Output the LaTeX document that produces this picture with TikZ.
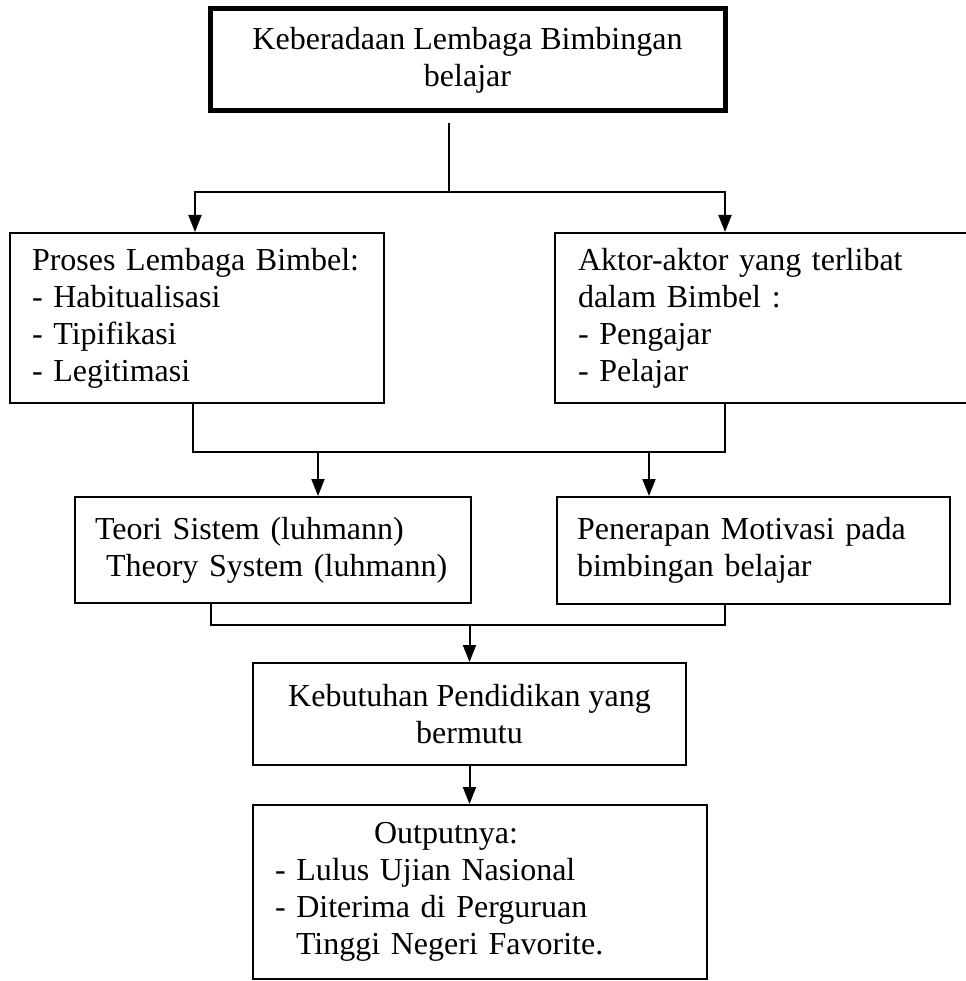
\documentclass[tikz,border=0pt]{standalone}
\usepackage{fontspec}
\setmainfont{Liberation Serif}
\usepackage{tikz}
\usetikzlibrary{arrows.meta}

\begin{document}
\begin{tikzpicture}[x=1pt, y=-1pt,
    box/.style={draw, line width=2pt, font=\fontsize{32}{37}\selectfont, inner ysep=0pt},
    leftbox/.style={box, align=left},
    midbox/.style={box, align=center},
    arr/.style={line width=2pt, -{Triangle[length=17pt, width=13pt]}},
    link/.style={line width=2pt}]
    \useasboundingbox (0,0) rectangle (965,981);
    % boxes
    \node[midbox, line width=5pt, minimum width=515pt, minimum height=102pt] (keberadaan) at (467.5,60)
        {Keberadaan Lembaga Bimbingan\\belajar};
    \node[leftbox, minimum width=374pt, minimum height=170pt, inner xsep=22pt, text width=330pt] (proses) at (197,318)
        {Proses Lembaga Bimbel:\\- Habitualisasi\\- Tipifikasi\\- Legitimasi};
    \node[leftbox, minimum width=413pt, minimum height=170pt, inner xsep=23pt, text width=367pt] (aktor) at (761.5,318)
        {Aktor-aktor yang terlibat\\dalam Bimbel :\\- Pengajar\\- Pelajar};
    \node[leftbox, minimum width=396pt, minimum height=106pt, inner xsep=20pt, text width=356pt] (teori) at (273,550)
        {Teori Sistem (luhmann)\\\hspace*{11pt}Theory System (luhmann)};
    \node[leftbox, minimum width=393pt, minimum height=107pt, inner xsep=20pt, text width=353pt] (penerapan) at (753.5,550.5)
        {Penerapan Motivasi pada\\bimbingan belajar};
    \node[midbox, minimum width=433pt, minimum height=102pt] (kebutuhan) at (469.5,714)
        {Kebutuhan Pendidikan yang\\bermutu};
    \node[leftbox, minimum width=454pt, minimum height=174pt, inner xsep=22pt, text width=410pt] (output) at (480,892)
        {\hspace*{99pt}Outputnya:\\- Lulus Ujian Nasional\\- Diterima di Perguruan\\\hspace*{21pt}Tinggi Negeri Favorite.};
    % junction points
    \coordinate (fork1) at (449,192);
    \coordinate (j2l) at (193,452);
    \coordinate (j2r) at (725,452);
    \coordinate (t2) at (318,452);
    \coordinate (p2) at (649,452);
    \coordinate (j3l) at (211,625);
    \coordinate (j3r) at (725,625);
    % connectors
    \draw[link, shorten <=10pt] (keberadaan.south -| fork1) -- (fork1);
    \draw[arr] (fork1) -| ([xshift=-2pt]proses.north);
    \draw[arr] (fork1) -| (aktor.north -| j2r);
    \draw[link] (proses.south -| j2l) -- (j2l) -- (j2r) -- (aktor.south -| j2r);
    \draw[arr] (t2) -- (teori.north -| t2);
    \draw[arr] (p2) -- (penerapan.north -| p2);
    \draw[link] (teori.south -| j3l) -- (j3l) -- (j3r) -- (penerapan.south -| j3r);
    \draw[arr] (j3l -| kebutuhan.north) -- (kebutuhan.north);
    \draw[arr] (kebutuhan.south) -- (output.north -| kebutuhan.south);
\end{tikzpicture}
\end{document}
